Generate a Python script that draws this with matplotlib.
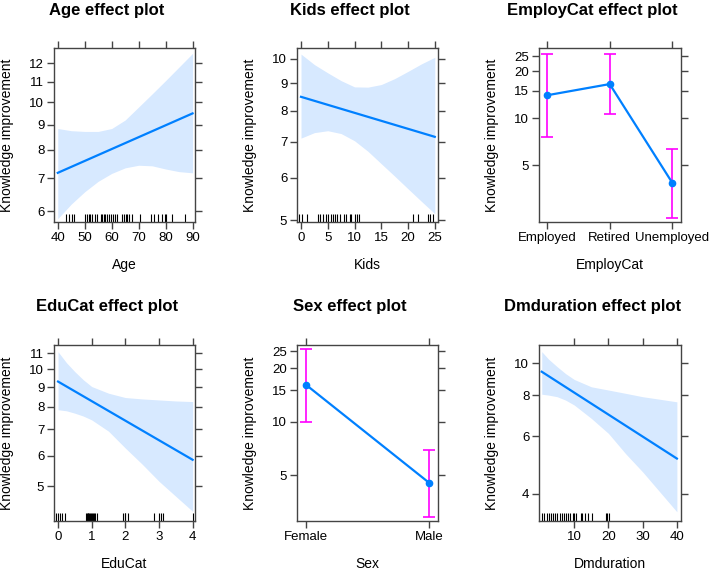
import matplotlib.pyplot as plt
import numpy as np

plt.rcParams['font.family'] = ['Liberation Sans', 'DejaVu Sans']

YLAB = 'Knowledge improvement'
LINE = '#0080ff'
BAND = '#d7e9ff'
ERR = '#ff00ff'

# Age panel
age_x = [40, 45, 50, 55, 60, 65, 70, 75, 80, 85, 90]
age_up = [8.84, 8.75, 8.72, 8.72, 8.84, 9.2, 9.78, 10.4, 11.07, 11.8, 12.58]
age_lo = [5.79, 6.2, 6.57, 6.9, 7.16, 7.35, 7.44, 7.42, 7.31, 7.22, 7.18]
age_fit_x = [40, 90]
age_fit = [7.18, 9.49]
age_rug = [43.1, 44.1, 45.1, 46.2, 50, 50.9, 51.5, 52.1, 52.8, 53.8, 54.6, 55.9,
           56.5, 57.1, 57.7, 58.3, 59, 59.6, 60.6, 61.4, 62.1, 63.9, 64.5, 65.2,
           65.8, 66.6, 67.4, 70.4, 74.4, 75.7, 77.2, 78.8, 79.8, 80.3, 82.3, 87.1]

# Kids panel
kids_x = [0, 2.5, 5, 7.5, 10, 12.5, 15, 17.5, 20, 22.5, 25]
kids_up = [10.2, 9.75, 9.41, 9.1, 8.86, 8.85, 8.95, 9.18, 9.47, 9.78, 10.06]
kids_lo = [7.11, 7.28, 7.34, 7.25, 7.03, 6.72, 6.37, 6.04, 5.72, 5.42, 5.14]
kids_fit_x = [0, 25]
kids_fit = [8.49, 7.15]
kids_rug = [-0.3, 0.1, 1.2, 3.1, 3.6, 4.2, 4.6, 5.1, 5.6, 6, 6.3, 6.8, 7.2, 8,
            8.5, 9.1, 9.4, 10.1, 10.4, 10.9, 21, 21.9, 23.8, 24.1, 24.6]

# EmployCat panel
emp_cats = ['Employed', 'Retired', 'Unemployed']
emp_fit = [14.07, 16.6, 3.86]
emp_lo = [7.57, 10.65, 2.29]
emp_up = [26.0, 25.9, 6.38]

# EduCat panel
edu_x = [0, 0.25, 0.5, 0.75, 1, 1.5, 2, 2.5, 3, 3.5, 4]
edu_up = [11.1, 10.4, 9.86, 9.4, 9.03, 8.68, 8.46, 8.39, 8.34, 8.29, 8.26]
edu_lo = [7.87, 7.82, 7.71, 7.58, 7.41, 6.93, 6.27, 5.70, 5.15, 4.71, 4.31]
edu_fit_x = [0, 4]
edu_fit = [9.30, 5.85]
edu_rug = [-0.07, 0, 0.06, 0.13, 0.2, 0.82, 0.85, 0.88, 0.9, 0.93, 0.95, 0.97,
           1.0, 1.03, 1.06, 1.1, 1.15, 1.93, 1.98, 2.0, 2.07, 2.85, 3.0, 3.05,
           3.12, 4.0]

# Sex panel
sex_cats = ['Female', 'Male']
sex_fit = [16.2, 4.52]
sex_lo = [10.0, 2.89]
sex_up = [25.8, 6.92]

# Dmduration panel
dm_x = [0.5, 2.5, 5, 7.5, 10, 15, 20, 25, 30, 35, 40]
dm_up = [10.86, 10.3, 9.77, 9.3, 8.93, 8.48, 8.29, 8.1, 7.91, 7.77, 7.63]
dm_lo = [8.05, 8.0, 7.91, 7.72, 7.46, 6.79, 6.11, 5.30, 4.66, 4.05, 3.52]
dm_fit_x = [0.5, 40]
dm_fit = [9.43, 5.12]
dm_rug = [0.6, 1.3, 1.9, 2.5, 3.2, 3.9, 4.5, 5.1, 5.8, 6.4, 7.1, 7.6, 8.1, 8.8,
          9.5, 10, 10.5, 11.9, 12.4, 13.2, 13.9, 15.1, 19.2, 19.7, 20.2]

fig = plt.figure(figsize=(7.11, 5.72), dpi=100)
W, H = 711, 572


def make_ax(l, t, r, b):
    ax = fig.add_axes([l / W, 1 - b / H, (r - l) / W, (b - t) / H])
    for s in ax.spines.values():
        s.set_color('#444444')
        s.set_linewidth(1)
    ax.set_yscale('log')
    ax.tick_params(which='both', direction='out', top=True, right=True,
                   labeltop=False, labelright=False, length=5, width=1,
                   color='#444444', labelsize=9.5, pad=2)
    ax.minorticks_off()
    return ax


def finish(ax, title, xlabel, yticks, ylim, tx, ty):
    ax.set_yticks(yticks)
    ax.set_yticklabels([str(v) for v in yticks])
    ax.minorticks_off()
    ax.set_ylim(ylim)
    ax.set_ylabel(YLAB, fontsize=10)
    ax.yaxis.set_label_coords(-0.283, 0.5)
    ax.set_xlabel(xlabel, fontsize=10)
    ax.xaxis.set_label_coords(0.5, -0.205)
    fig.text(tx / W, 1 - ty / H, title, ha='center', va='center',
             fontsize=12, fontweight='bold')


def cont_panel(box, x, lo, up, fx, fy, rug, xlim, xticks, title, xlabel,
               yticks, ylim, tpos):
    ax = make_ax(*box)
    ax.fill_between(x, lo, up, color=BAND, lw=0)
    ax.plot(fx, fy, color=LINE, lw=1.6)
    ax.vlines(rug, 0, 0.045, transform=ax.get_xaxis_transform(),
              color='black', lw=0.8)
    ax.set_xlim(xlim)
    ax.set_xticks(xticks)
    finish(ax, title, xlabel, yticks, ylim, *tpos)
    return ax


def cat_panel(box, cats, fit, lo, up, xlim, title, xlabel, yticks, ylim, tpos):
    ax = make_ax(*box)
    pos = np.arange(1, len(cats) + 1)
    fit = np.array(fit)
    yerr = [fit - np.array(lo), np.array(up) - fit]
    ax.errorbar(pos, fit, yerr=yerr, fmt='none', ecolor=ERR, elinewidth=1.2,
                capsize=4, capthick=1.2)
    ax.plot(pos, fit, color=LINE, lw=1.6, marker='o', ms=4.5)
    ax.set_xlim(xlim)
    ax.set_xticks(pos)
    ax.set_xticklabels(cats)
    finish(ax, title, xlabel, yticks, ylim, *tpos)
    return ax


cont_panel((54, 48, 195, 222), age_x, age_lo, age_up, age_fit_x, age_fit,
           age_rug, (38.6, 90.9), [40, 50, 60, 70, 80, 90],
           'Age effect plot', 'Age', [6, 7, 8, 9, 10, 11, 12], (5.7, 12.9),
           (107, 10))

cont_panel((297, 48, 438, 222), kids_x, kids_lo, kids_up, kids_fit_x,
           kids_fit, kids_rug, (-0.75, 25.6), [0, 5, 10, 15, 20, 25],
           'Kids effect plot', 'Kids', [5, 6, 7, 8, 9, 10], (4.96, 10.47),
           (350, 10))

cat_panel((539, 48, 681, 222), emp_cats, emp_fit, emp_lo, emp_up,
          (0.87, 3.14), 'EmployCat effect plot', 'EmployCat',
          [5, 10, 15, 20, 25], (2.16, 28.3), (592, 10))

cont_panel((54, 345, 195, 521), edu_x, edu_lo, edu_up, edu_fit_x, edu_fit,
           edu_rug, (-0.12, 4.07), [0, 1, 2, 3, 4],
           'EduCat effect plot', 'EduCat', [5, 6, 7, 8, 9, 10, 11],
           (4.07, 11.55), (107, 307))

cat_panel((297, 345, 438, 521), sex_cats, sex_fit, sex_lo, sex_up,
          (0.93, 2.07), 'Sex effect plot', 'Sex', [5, 10, 15, 20, 25],
          (2.76, 27.05), (350, 307))

cont_panel((539, 345, 681, 521), dm_x, dm_lo, dm_up, dm_fit_x, dm_fit,
           dm_rug, (-0.3, 41.2), [10, 20, 30, 40],
           'Dmduration effect plot', 'Dmduration', [4, 6, 8, 10],
           (3.30, 11.38), (593, 307))

fig.savefig('out.png', dpi=100)
